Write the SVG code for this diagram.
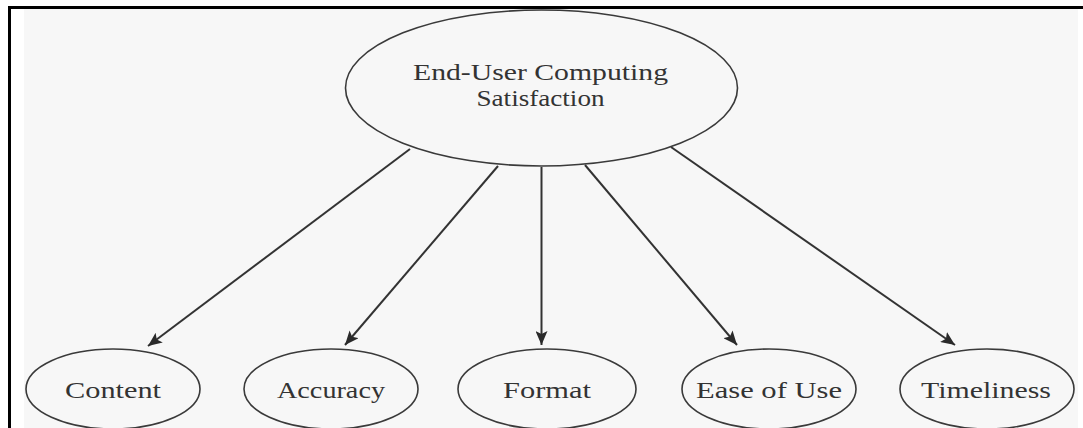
<svg xmlns="http://www.w3.org/2000/svg" width="1083" height="428" viewBox="0 0 1083 428">
<style>
.node ellipse{fill:none;stroke:#3a3a3a;stroke-width:1.6}
.node text{font-family:'Liberation Serif','DejaVu Serif',serif;font-size:24px;fill:#333;text-anchor:middle}
.edges line{stroke:#333;stroke-width:2}
</style>
<defs>
<marker id="ah" viewBox="0 0 14 12" refX="14" refY="6" markerWidth="14" markerHeight="12" markerUnits="userSpaceOnUse" orient="auto">
<path d="M0,0 L14,6 L0,12 L3,6 Z" fill="#2a2a2a"/>
</marker>
</defs>
<rect x="0" y="0" width="1083" height="428" fill="#fff"/>
<rect x="24" y="9" width="1054" height="419" fill="#f7f7f7"/>
<line x1="8" y1="7.5" x2="1083" y2="7.5" stroke="#000" stroke-width="3"/>
<line x1="9.5" y1="6" x2="9.5" y2="428" stroke="#000" stroke-width="3"/>
<g class="edges">
<line x1="410" y1="149" x2="148" y2="346" marker-end="url(#ah)"/>
<line x1="498" y1="166" x2="345" y2="345" marker-end="url(#ah)"/>
<line x1="541.5" y1="167" x2="541.5" y2="345" marker-end="url(#ah)"/>
<line x1="585" y1="165" x2="737" y2="345" marker-end="url(#ah)"/>
<line x1="671" y1="147" x2="955" y2="345" marker-end="url(#ah)"/>
</g>
<g id="main" class="node">
<ellipse cx="541.5" cy="88" rx="196" ry="78"/>
<text x="540.5" y="80" textLength="255" lengthAdjust="spacingAndGlyphs">End-User Computing</text>
<text x="540.5" y="106" textLength="128" lengthAdjust="spacingAndGlyphs">Satisfaction</text>
</g>
<g id="content" class="node">
<ellipse cx="113" cy="389" rx="87" ry="40"/>
<text x="113" y="398" textLength="96" lengthAdjust="spacingAndGlyphs">Content</text>
</g>
<g id="accuracy" class="node">
<ellipse cx="331" cy="389" rx="87" ry="40"/>
<text x="331" y="398" textLength="108" lengthAdjust="spacingAndGlyphs">Accuracy</text>
</g>
<g id="format" class="node">
<ellipse cx="547" cy="389" rx="89" ry="40"/>
<text x="547" y="398" textLength="88" lengthAdjust="spacingAndGlyphs">Format</text>
</g>
<g id="ease" class="node">
<ellipse cx="769" cy="389" rx="87" ry="40"/>
<text x="769" y="398" textLength="146" lengthAdjust="spacingAndGlyphs">Ease of Use</text>
</g>
<g id="timeliness" class="node">
<ellipse cx="987" cy="389" rx="87" ry="40"/>
<text x="986" y="398" textLength="130" lengthAdjust="spacingAndGlyphs">Timeliness</text>
</g>
</svg>
